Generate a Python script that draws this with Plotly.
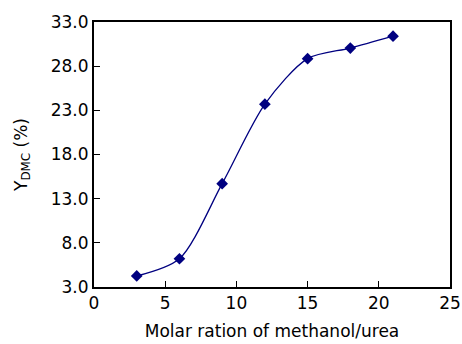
import plotly.graph_objects as go

molar_ratio = [3, 6, 9, 12, 15, 18, 21]
y_dmc = [4.25, 6.2, 14.7, 23.7, 28.85, 30.05, 31.4]
x_ticks = [0, 5, 10, 15, 20, 25]
y_ticks = [3.0, 8.0, 13.0, 18.0, 23.0, 28.0, 33.0]

fig = go.Figure()
fig.add_trace(go.Scatter(
    x=molar_ratio, y=y_dmc, mode="lines+markers",
    line=dict(color="#000080", width=1.3, shape="spline", smoothing=0.8),
    marker=dict(symbol="diamond", size=9, color="#000080"),
    showlegend=False,
))

font = dict(family="DejaVu Sans, Liberation Sans, sans-serif", size=17, color="black")
fig.update_layout(
    width=462, height=344,
    margin=dict(l=94, r=12, t=22, b=57),
    paper_bgcolor="white", plot_bgcolor="white",
    font=font,
    xaxis=dict(
        range=[0, 25], tickvals=x_ticks, ticktext=[str(v) for v in x_ticks],
        ticks="inside", ticklen=6, tickwidth=1.3, tickcolor="black",
        showline=True, linecolor="black", linewidth=2, mirror=True,
        showgrid=False, zeroline=False, automargin=False,
        title=dict(text="Molar ration of methanol/urea", standoff=13, font=font),
    ),
    yaxis=dict(
        range=[3, 33], tickvals=y_ticks, ticktext=[f"{v:.1f}" for v in y_ticks],
        ticks="inside", ticklen=6, tickwidth=1.3, tickcolor="black",
        showline=True, linecolor="black", linewidth=2, mirror=True,
        showgrid=False, zeroline=False, automargin=False,
        title=dict(text="Y<sub>DMC</sub> (%)", standoff=19, font=font),
    ),
)
fig.write_html("out.html",
               config={"displayModeBar": False, "staticPlot": True},
               post_script="document.body.style.margin='0px';document.body.style.overflow='hidden';")
